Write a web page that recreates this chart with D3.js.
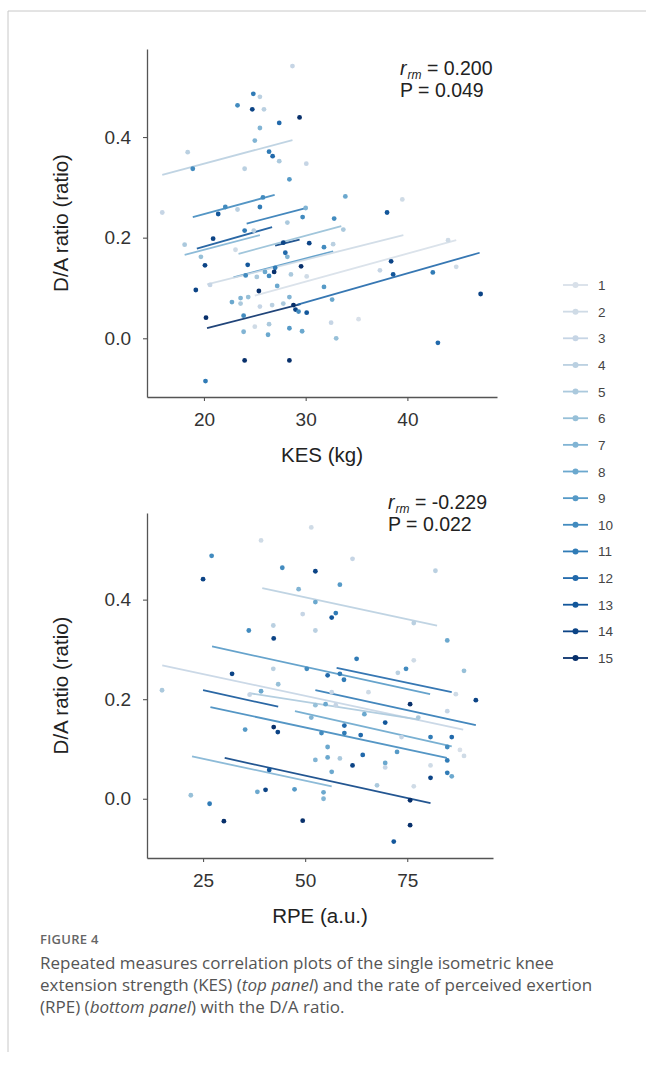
<!DOCTYPE html>
<html>
<head>
<meta charset="utf-8">
<script src="https://cdn.jsdelivr.net/npm/d3@7/dist/d3.min.js"></script>
<style>
  body { margin: 0; background: #fff; }
  svg { display: block; font-family: "Liberation Sans", Arial, sans-serif; }
  .tick text { fill: #333; }
</style>
</head>
<body>
<svg id="fig" width="646" height="1068"></svg>
<script>
// ---- data ----
const subjects = [1, 2, 3, 4, 5, 6, 7, 8, 9, 10, 11, 12, 13, 14, 15];

// [subject, KES (kg), D/A ratio]
const kesPoints = [
  [3, 28.7, 0.541], [11, 24.85, 0.486], [4, 25.5, 0.480], [10, 23.3, 0.463],
  [14, 24.75, 0.455], [4, 25.9, 0.455], [15, 29.4, 0.439], [12, 27.4, 0.428],
  [7, 25.5, 0.418], [7, 25.0, 0.393], [11, 26.4, 0.371], [12, 26.75, 0.362],
  [5, 27.4, 0.352], [3, 30.06, 0.347], [4, 18.4, 0.370], [10, 18.9, 0.337],
  [4, 24.0, 0.337], [9, 28.4, 0.316], [3, 15.9, 0.250], [10, 22.1, 0.261],
  [13, 21.4, 0.247], [4, 23.3, 0.256], [10, 25.8, 0.280], [11, 25.5, 0.261],
  [7, 30.0, 0.259], [10, 29.7, 0.241], [11, 24.0, 0.214], [4, 24.9, 0.214],
  [5, 28.2, 0.230], [14, 20.9, 0.198], [5, 18.1, 0.186], [14, 27.8, 0.190],
  [14, 30.35, 0.189], [10, 31.8, 0.181], [2, 23.1, 0.176], [6, 19.7, 0.162],
  [14, 20.1, 0.145], [13, 24.3, 0.146], [12, 28.0, 0.170], [7, 28.2, 0.162],
  [15, 29.55, 0.143], [11, 27.0, 0.140], [15, 26.9, 0.132], [10, 26.4, 0.124],
  [8, 26.0, 0.132], [10, 24.1, 0.125], [5, 25.2, 0.122], [5, 28.55, 0.127],
  [2, 30.1, 0.123], [14, 19.2, 0.096], [3, 20.6, 0.106], [15, 25.4, 0.094],
  [8, 27.2, 0.104], [9, 31.8, 0.102], [8, 22.75, 0.072], [7, 23.6, 0.080],
  [6, 24.35, 0.082], [5, 23.6, 0.069], [7, 28.4, 0.082], [5, 27.8, 0.069],
  [3, 25.5, 0.063], [4, 26.7, 0.066], [15, 28.8, 0.066], [14, 29.0, 0.057],
  [10, 29.3, 0.053], [13, 30.1, 0.051], [15, 20.2, 0.041], [10, 23.9, 0.045],
  [2, 25.0, 0.023], [5, 26.4, 0.028], [7, 23.9, 0.013], [8, 26.3, 0.007],
  [9, 28.4, 0.020], [8, 29.65, 0.014], [15, 24.0, -0.044], [15, 28.4, -0.044],
  [11, 20.15, -0.085], [8, 33.9, 0.282], [2, 39.5, 0.276], [13, 38.0, 0.250],
  [10, 32.8, 0.238], [5, 33.7, 0.216], [4, 32.7, 0.187], [2, 44.0, 0.195],
  [14, 38.4, 0.153], [3, 37.3, 0.135], [13, 38.6, 0.127], [11, 42.5, 0.131],
  [2, 44.8, 0.142], [8, 32.6, 0.077], [14, 47.2, 0.088], [3, 32.5, 0.031],
  [1, 35.2, 0.038], [6, 33.0, 0.000], [12, 43.0, -0.009]
];

// per-subject fitted lines: [subject, x0, y0, x1, y1]
const kesFits = [
  [4, 15.9, 0.325, 28.7, 0.394],
  [10, 18.9, 0.241, 26.95, 0.285],
  [11, 24.2, 0.228, 30.1, 0.259],
  [13, 19.3, 0.178, 26.7, 0.221],
  [7, 18.1, 0.166, 25.5, 0.205],
  [14, 27.0, 0.184, 29.4, 0.196],
  [6, 23.4, 0.168, 33.5, 0.223],
  [9, 22.9, 0.121, 32.7, 0.173],
  [2, 20.3, 0.107, 39.6, 0.205],
  [1, 25.0, 0.085, 44.8, 0.195],
  [15, 20.3, 0.020, 29.5, 0.068],
  [12, 29.2, 0.067, 47.1, 0.170]
];

// [subject, RPE (a.u.), D/A ratio]
const rpePoints = [
  [5, 14.95, 0.218], [6, 22.0, 0.007], [14, 25.0, 0.441], [10, 27.1, 0.488],
  [11, 26.6, -0.010], [15, 30.1, -0.045], [14, 32.1, 0.251], [9, 35.3, 0.139],
  [10, 36.2, 0.338], [3, 36.4, 0.209], [8, 38.3, 0.014], [2, 39.2, 0.519],
  [8, 39.2, 0.216], [14, 40.3, 0.018], [13, 41.2, 0.058], [4, 42.2, 0.348],
  [4, 42.2, 0.261], [14, 42.3, 0.322], [15, 42.3, 0.144], [14, 43.3, 0.134],
  [6, 43.4, 0.230], [10, 44.4, 0.464], [9, 47.4, 0.019], [7, 48.4, 0.421],
  [3, 49.4, 0.371], [15, 49.4, -0.044], [10, 50.4, 0.261], [7, 51.5, 0.163],
  [2, 51.5, 0.545], [14, 52.5, 0.457], [8, 52.5, 0.395], [4, 52.5, 0.338],
  [6, 52.5, 0.188], [7, 52.5, 0.078], [10, 54.0, 0.132], [8, 54.5, 0.013],
  [7, 54.5, 0.000], [8, 55.0, 0.190], [12, 55.5, 0.248], [8, 55.5, 0.104],
  [8, 55.5, 0.083], [8, 56.5, 0.054], [13, 56.5, 0.364], [11, 57.5, 0.373],
  [3, 56.5, 0.214], [3, 57.5, 0.188], [9, 58.5, 0.430], [11, 58.5, 0.251],
  [5, 58.5, 0.081], [11, 59.5, 0.239], [12, 59.6, 0.147], [11, 59.6, 0.132],
  [3, 61.6, 0.482], [14, 61.6, 0.067], [11, 62.6, 0.281], [12, 63.6, 0.128],
  [12, 64.1, 0.088], [8, 64.5, 0.170], [2, 65.5, 0.214], [5, 67.6, 0.027],
  [13, 69.6, 0.153], [8, 69.6, 0.072], [3, 69.6, 0.063], [13, 71.7, -0.086],
  [9, 72.5, 0.094], [4, 72.7, 0.253], [3, 73.6, 0.124], [10, 74.7, 0.261],
  [15, 75.7, 0.190], [15, 75.7, -0.003], [15, 75.7, -0.053], [4, 76.6, 0.353],
  [2, 76.6, 0.278], [2, 76.6, 0.025], [5, 77.7, 0.163], [11, 80.7, 0.124],
  [2, 80.7, 0.067], [14, 80.7, 0.042], [4, 81.9, 0.458], [8, 84.8, 0.318],
  [3, 84.8, 0.176], [10, 84.8, 0.104], [11, 84.8, 0.077], [11, 84.8, 0.052],
  [12, 85.9, 0.124], [8, 85.9, 0.045], [2, 86.9, 0.210], [1, 87.9, 0.098],
  [2, 88.9, 0.086], [6, 88.9, 0.257], [14, 91.8, 0.198]
];

const rpeFits = [
  [4, 39.5, 0.423, 82.3, 0.348],
  [9, 27.2, 0.306, 80.6, 0.210],
  [12, 57.7, 0.263, 85.9, 0.214],
  [3, 15.0, 0.268, 88.7, 0.139],
  [13, 25.0, 0.218, 43.4, 0.185],
  [11, 52.5, 0.218, 91.8, 0.148],
  [5, 36.3, 0.212, 77.9, 0.159],
  [8, 47.5, 0.176, 85.9, 0.105],
  [10, 26.8, 0.184, 84.7, 0.082],
  [7, 22.3, 0.085, 56.5, 0.025],
  [14, 30.3, 0.082, 80.7, -0.009]
];

const kesTicks = [20, 30, 40];
const rpeTicks = [25, 50, 75];
const ratioTicks = [0.0, 0.2, 0.4];
const statR = ['0.200', '-0.229'];
const statP = ['0.049', '0.022'];

// ---- drawing ----
const svg = d3.select('#fig');
const blues = d3.scaleSequential(d3.interpolateBlues).domain([0, 15]);
// the light end of the palette reads a little greyer in the figure
const color = (s) => d3.interpolateRgb(blues(s), '#a9b0ba')(0.3 * (1 - s / 15));

// page frame
svg.append('line').attr('x1', 8).attr('x2', 646).attr('y1', 11).attr('y2', 11)
  .attr('stroke', '#c8c8c8').attr('stroke-width', 1);
svg.append('line').attr('x1', 8).attr('x2', 8).attr('y1', 11).attr('y2', 1052)
  .attr('stroke', '#c8c8c8').attr('stroke-width', 1);

function drawPanel(p) {
  const x = d3.scaleLinear().domain(p.xDomain).range([p.left, p.right]);
  const y = d3.scaleLinear().domain(p.yDomain).range([p.bottom, p.top]);

  const xAxis = svg.append('g')
    .attr('transform', `translate(0,${p.bottom})`)
    .call(d3.axisBottom(x).tickValues(p.xTicks).tickSizeInner(4).tickSizeOuter(0).tickPadding(12));
  const yAxis = svg.append('g')
    .attr('transform', `translate(${p.left},0)`)
    .call(d3.axisLeft(y).tickValues(ratioTicks).tickFormat(d3.format('.1f'))
      .tickSizeInner(4).tickSizeOuter(0).tickPadding(12));
  [xAxis, yAxis].forEach((a) => {
    a.select('.domain').attr('stroke', '#555').attr('stroke-width', 1.3);
    a.selectAll('.tick line').attr('stroke', '#555').attr('stroke-width', 1.1);
    a.selectAll('.tick text').style('font-size', '19px');
  });

  // titles
  svg.append('text')
    .attr('x', (p.left + p.right) / 2)
    .attr('y', p.bottom + 65)
    .attr('text-anchor', 'middle')
    .style('font-size', '20.5px')
    .attr('fill', '#222')
    .text(p.xTitle);

  svg.append('text')
    .attr('transform', `translate(68,${(p.top + p.bottom) / 2}) rotate(-90)`)
    .attr('text-anchor', 'middle')
    .style('font-size', '20.5px')
    .attr('fill', '#222')
    .text('D/A ratio (ratio)');

  // fitted lines
  svg.append('g').selectAll('line')
    .data(p.fits)
    .enter()
    .append('line')
    .attr('x1', (d) => x(d[1]))
    .attr('y1', (d) => y(d[2]))
    .attr('x2', (d) => x(d[3]))
    .attr('y2', (d) => y(d[4]))
    .attr('stroke', (d) => color(d[0]))
    .attr('stroke-width', 1.8)
    .attr('opacity', 0.9);

  // points
  svg.append('g').selectAll('circle')
    .data(p.points)
    .enter()
    .append('circle')
    .attr('cx', (d) => x(d[1]))
    .attr('cy', (d) => y(d[2]))
    .attr('r', 2.4)
    .attr('fill', (d) => color(d[0]));

  // r_rm and P
  const t1 = svg.append('text')
    .attr('x', p.statX).attr('y', p.statY)
    .style('font-size', '19.5px').attr('fill', '#222');
  t1.append('tspan').style('font-style', 'italic').text('r');
  t1.append('tspan').style('font-style', 'italic').style('font-size', '12px')
    .attr('dx', 1).attr('dy', 4).text('rm');
  t1.append('tspan').attr('dy', -4).text(' = ' + p.r);

  svg.append('text')
    .attr('x', p.statX).attr('y', p.statY + 22)
    .style('font-size', '19.5px').attr('fill', '#222')
    .text('P = ' + p.p);
}

drawPanel({
  left: 147, right: 497, top: 49, bottom: 397,
  xDomain: [14.4, 48.81], yDomain: [-0.1167, 0.575],
  xTicks: kesTicks, xTitle: 'KES (kg)',
  points: kesPoints, fits: kesFits,
  r: statR[0], p: statP[0], statX: 400, statY: 75
});

drawPanel({
  left: 147, right: 493, top: 513, bottom: 858,
  xDomain: [11.27, 96.0], yDomain: [-0.119, 0.574],
  xTicks: rpeTicks, xTitle: 'RPE (a.u.)',
  points: rpePoints, fits: rpeFits,
  r: statR[1], p: statP[1], statX: 388, statY: 509
});

// legend
const legendY = d3.scalePoint().domain(subjects).range([285, 658]);
const legend = svg.append('g');
subjects.forEach((s) => {
  const yy = legendY(s);
  legend.append('line').attr('x1', 563).attr('x2', 588).attr('y1', yy).attr('y2', yy)
    .attr('stroke', color(s)).attr('stroke-width', 1.8);
  legend.append('circle').attr('cx', 575.5).attr('cy', yy).attr('r', 3).attr('fill', color(s));
  legend.append('text').attr('x', 598).attr('y', yy + 5)
    .style('font-size', '13.5px').attr('fill', '#444').text(s);
});

// caption
const cap = svg.append('g').style('font-family', '"Open Sans", "Noto Sans", sans-serif');
cap.append('text').attr('x', 40).attr('y', 944)
  .style('font-size', '13px').style('font-weight', 600).style('letter-spacing', '0.3px')
  .attr('fill', '#666').text('FIGURE 4');

const capLines = [
  [['Repeated measures correlation plots of the single isometric knee', false]],
  [['extension strength (KES) (', false], ['top panel', true], [') and the rate of perceived exertion', false]],
  [['(RPE) (', false], ['bottom panel', true], [') with the D/A ratio.', false]]
];
capLines.forEach((parts, i) => {
  const t = cap.append('text').attr('x', 40).attr('y', 969 + i * 22)
    .style('font-size', '17px').attr('fill', '#555');
  parts.forEach(([s, it]) => {
    t.append('tspan').style('font-style', it ? 'italic' : 'normal').text(s);
  });
});
</script>
</body>
</html>
